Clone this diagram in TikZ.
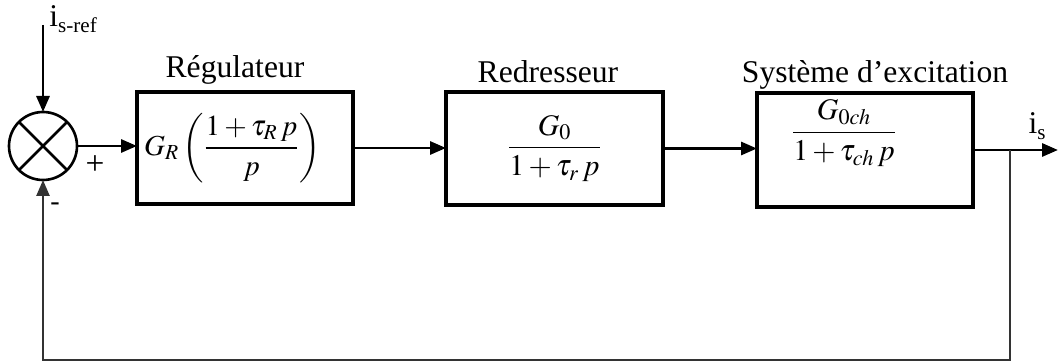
\documentclass[tikz,border=0pt]{standalone}
\usepackage{amsmath}
\usepackage{mathptmx}
\usepackage{fontspec}
\setmainfont{Liberation Serif}
\usetikzlibrary{positioning}
\usetikzlibrary{arrows.meta}

\begin{document}
\begin{tikzpicture}[>={Triangle[length=0.32cm,width=0.26cm]},
	block/.style={draw=black,line width=1.8pt,minimum width=4.32cm,minimum height=2.24cm,outer sep=0pt,inner sep=0pt},
	sumnode/.style={circle,draw=black,line width=1.5pt,minimum size=1.36cm,inner sep=0pt,outer sep=0pt,
		path picture={\draw[line width=1.5pt] (path picture bounding box.north west) -- (path picture bounding box.south east)
			(path picture bounding box.north east) -- (path picture bounding box.south west);}},
	flow/.style={->,line width=1.7pt},
	feedback/.style={->,line width=1.4pt,draw=black!80},
	title/.style={font=\fontsize{18}{21}\selectfont,inner sep=0pt},
	tf/.style={font=\fontsize{17}{20}\selectfont,inner sep=0pt}]
	\useasboundingbox (0,0) rectangle (21.2,7.28);

	\node [sumnode] at (0.86,4.36) (sum) {};
	\coordinate (ref) at (0.86,6.78);
	\node [anchor=west,inner sep=0pt] at (0.98,6.9) (ref_txt) {\fontsize{18}{21}\selectfont i\raisebox{-0.45ex}{\fontsize{12}{14}\selectfont s-ref}};
	\node [inner sep=0pt,font=\fontsize{19}{22}\selectfont] at (1.90,3.98) (plus) {+};
	\node [inner sep=0pt,font=\fontsize{16}{19}\selectfont] at (1.10,3.14) (minus) {-};

	% the three blocks of the loop
	\node [block] at (4.90,4.32) (reg) {};
	\node [tf,font=\fontsize{16.5}{20}\selectfont,xshift=-0.25cm] at (reg) (reg_tf) {$G_R\left(\dfrac{1+\tau_R\, p}{p}\right)$};
	\node [title] at (4.70,5.88) (reg_txt) {Régulateur};

	\node [block,minimum width=4.34cm,minimum height=2.26cm] at (11.09,4.31) (red) {};
	\node [tf] at (red) (red_tf) {$\dfrac{G_0}{1+\tau_r\, p}$};
	\node [title] at (10.96,5.84) (red_txt) {Redresseur};

	\node [block,minimum height=2.28cm] at (17.30,4.28) (exc) {};
	\node [tf,xshift=-0.42cm,yshift=0.34cm] at (exc) (exc_tf) {$\dfrac{G_{0ch}}{1+\tau_{ch}\, p}$};
	\node [title] at (17.50,5.78) (exc_txt) {Système d’excitation};

	\coordinate [right=1.7cm of exc.east] (out);
	\coordinate [right=0.74cm of exc.east] (tap);
	\node [inner sep=0pt] at (20.74,4.76) (out_txt) {\fontsize{18}{21}\selectfont i\raisebox{-0.45ex}{\fontsize{12}{14}\selectfont s}};

	\draw[flow] (ref) -- (sum.north);
	\draw[flow] (sum.east) -- (sum.east -| reg.west);
	\draw[flow] (reg.east) -- (reg.east -| red.west);
	\draw[flow] (red.east) -- (red.east -| exc.west);
	\draw[flow] (exc.east) -- (out);

	\draw[feedback] (tap) -- ++(0,-4.2) -| (sum.south);
\end{tikzpicture}
\end{document}
